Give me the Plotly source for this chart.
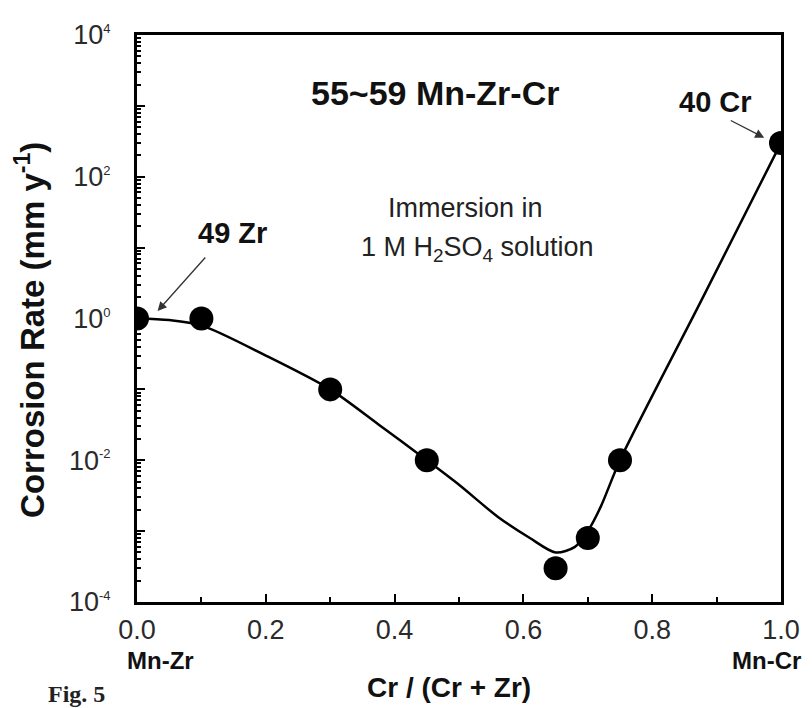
import plotly.graph_objects as go

# measured data points
ratio = [0.0, 0.1, 0.3, 0.45, 0.65, 0.7, 0.75, 1.0]
rate = [1.0, 1.0, 0.1, 0.01, 0.0003, 0.0008, 0.01, 300]

# hand-drawn trend curve
fit_x = [0.0, 0.05, 0.1, 0.2, 0.3, 0.375, 0.45, 0.5, 0.56, 0.61, 0.65, 0.68, 0.7, 0.72, 0.75, 0.875, 1.0]
fit_y = [1.0, 0.95, 0.8, 0.3, 0.1, 0.032, 0.01, 0.0045, 0.0016, 0.0008, 0.0005, 0.0006, 0.001, 0.0022, 0.01, 1.7, 300]

x_ticks = [0.0, 0.2, 0.4, 0.6, 0.8, 1.0]
x_ticktext = ["0.0", "0.2", "0.4", "0.6", "0.8", "1.0"]
x_minor = [0.1, 0.3, 0.5, 0.7, 0.9]
decades = [-4, -3, -2, -1, 0, 1, 2, 3, 4]
y_labelled = [-4, -2, 0, 2, 4]

y_ticks = [10.0 ** d for d in decades]
y_ticktext = [f"10<sup><span style='font-size:13px'>{d}</span></sup>" if d in y_labelled else ""
              for d in decades]
y_minor = [m * 10.0 ** d for d in decades[:-1] for m in range(2, 10)]

FONT = "Liberation Sans, Arial, sans-serif"

fig = go.Figure()
fig.add_trace(go.Scatter(x=fit_x, y=fit_y, mode="lines",
                         line=dict(color="black", width=2.5, shape="spline", smoothing=0.8),
                         hoverinfo="skip", showlegend=False))
fig.add_trace(go.Scatter(x=ratio, y=rate, mode="markers",
                         marker=dict(color="black", size=24), showlegend=False))

fig.update_xaxes(range=[0, 1], tickvals=x_ticks, ticktext=x_ticktext,
                 ticks="inside", ticklen=8, tickwidth=2, tickcolor="black",
                 minor=dict(tickvals=x_minor, ticks="inside", ticklen=5, tickwidth=1.5, tickcolor="black"),
                 showline=True, linewidth=3, linecolor="black", mirror=True,
                 showgrid=False, zeroline=False, ticklabelstandoff=2,
                 tickfont=dict(family=FONT, size=27, color="#2a2a2a"))
fig.update_yaxes(type="log", range=[-4, 4], tickvals=y_ticks, ticktext=y_ticktext,
                 ticks="inside", ticklen=8, tickwidth=2, tickcolor="black",
                 minor=dict(tickvals=y_minor, ticks="inside", ticklen=4, tickwidth=1.5, tickcolor="black"),
                 showline=True, linewidth=3, linecolor="black", mirror=True,
                 showgrid=False, zeroline=False, ticklabelstandoff=18,
                 tickfont=dict(family=FONT, size=27, color="#2a2a2a"))

ann = []
ann.append(dict(text="<b>55~59 Mn-Zr-Cr</b>", x=0.463, y=3.18, xref="x", yref="y",
                xanchor="center", showarrow=False, font=dict(family=FONT, size=34, color="#111")))
ann.append(dict(text="Immersion in", x=0.386, y=1.56, xref="x", yref="y", xanchor="left",
                showarrow=False, font=dict(family=FONT, size=27, color="#222")))
ann.append(dict(text="1 M H<sub>2</sub>SO<sub>4</sub> solution", x=0.344, y=0.98, xref="x", yref="y",
                xanchor="left", showarrow=False, font=dict(family=FONT, size=27, color="#222")))
ann.append(dict(text="<b>49 Zr</b>", x=0.148, y=1.21, xref="x", yref="y", xanchor="center",
                showarrow=False, font=dict(family=FONT, size=29, color="#111")))
ann.append(dict(text="<b>40 Cr</b>", x=0.898, y=3.05, xref="x", yref="y", xanchor="center",
                showarrow=False, font=dict(family=FONT, size=29, color="#111")))
ann.append(dict(text="", x=0.032, y=0.106, xref="x", yref="y", showarrow=True,
                ax=49, ay=-55, arrowhead=2, arrowsize=1.4, arrowwidth=1.3, arrowcolor="#333"))
ann.append(dict(text="", x=0.974, y=2.55, xref="x", yref="y", showarrow=True,
                ax=-35, ay=-18, arrowhead=2, arrowsize=1.4, arrowwidth=1.3, arrowcolor="#333"))
ann.append(dict(text="<b>Mn-Zr</b>", x=0.036, y=-0.104, xref="x", yref="paper",
                xanchor="center", yanchor="middle", showarrow=False,
                font=dict(family=FONT, size=24, color="#111")))
ann.append(dict(text="<b>Mn-Cr</b>", x=0.978, y=-0.104, xref="x", yref="paper",
                xanchor="center", yanchor="middle", showarrow=False,
                font=dict(family=FONT, size=24, color="#111")))
ann.append(dict(text="<b>Cr / (Cr + Zr)</b>", x=0.485, y=-0.150, xref="paper", yref="paper",
                xanchor="center", yanchor="middle", showarrow=False,
                font=dict(family=FONT, size=28, color="#111")))
ann.append(dict(text="<b>Corrosion Rate (mm y<sup>-1</sup>)</b>", x=-0.166, y=0.48,
                xref="paper", yref="paper", xanchor="center", yanchor="middle",
                textangle=-90, showarrow=False,
                font=dict(family=FONT, size=33, color="#111")))
ann.append(dict(text="<b>Fig. 5</b>", x=-0.142, y=-0.162, xref="paper", yref="paper",
                xanchor="left", yanchor="middle", showarrow=False,
                font=dict(family="Liberation Serif, Times New Roman, serif", size=24, color="#222")))

# page body adds an 8 px offset; figure is sized so the plot area lands where the reference has it
fig.update_layout(width=804, height=700, margin=dict(l=129, r=27, t=21, b=106),
                  paper_bgcolor="white", plot_bgcolor="white", annotations=ann)

fig.write_html("out.html")
